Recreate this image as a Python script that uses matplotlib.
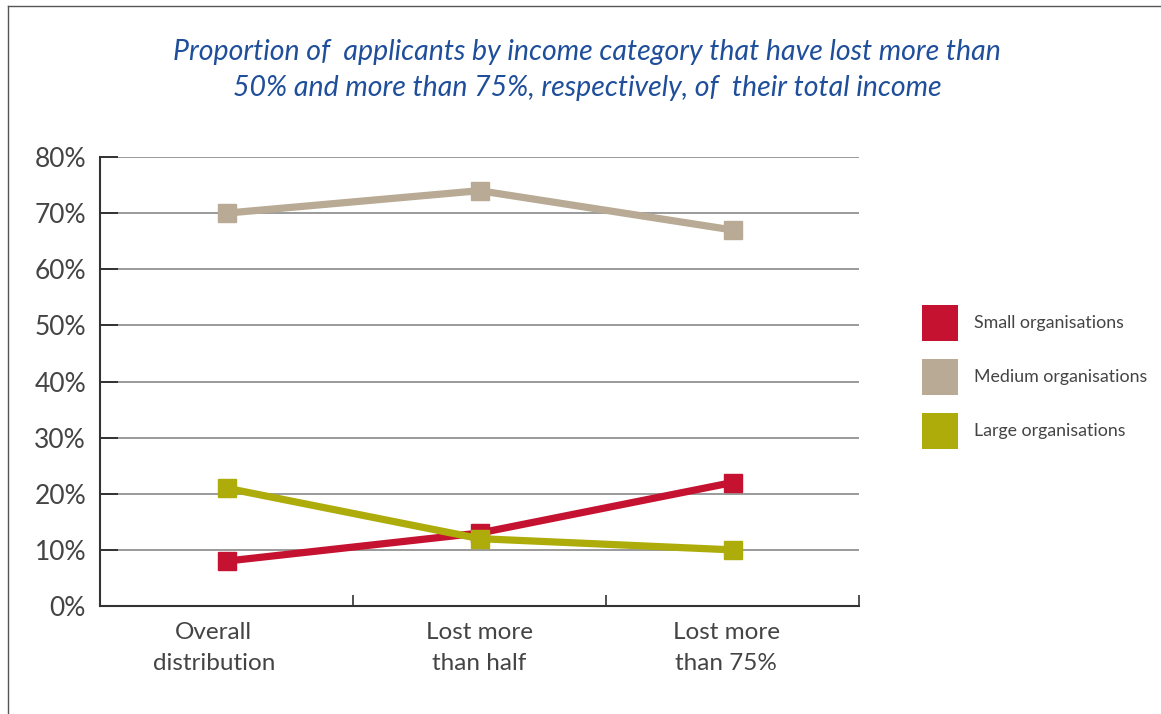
import matplotlib.pyplot as plt
from matplotlib.patches import Rectangle
from matplotlib.lines import Line2D

categories = ["Overall\ndistribution", "Lost more\nthan half", "Lost more\nthan 75%"]
series_names = ["Small organisations", "Medium organisations", "Large organisations"]
small = [8, 13, 22]
medium = [70, 74, 67]
large = [21, 12, 10]
y_ticks = [0, 10, 20, 30, 40, 50, 60, 70, 80]
y_labels = ["0%", "10%", "20%", "30%", "40%", "50%", "60%", "70%", "80%"]

colors = ["#C41230", "#B8AA94", "#ADAC0A"]
title = ("Proportion of  applicants by income category that have lost more than\n"
         "50% and more than 75%, respectively, of  their total income")

plt.rcParams['font.family'] = ['Lato', 'DejaVu Sans']
text_col = "#444444"

fig = plt.figure(figsize=(11.61, 7.14), dpi=100)
ax = fig.add_axes([100 / 1161, 108 / 714, 759 / 1161, 449 / 714])

x = [i + 0.5 for i in range(len(categories))]
for vals, col in zip([medium, small, large], [colors[1], colors[0], colors[2]]):
    ax.plot(x, vals, color=col, lw=5.2, marker='s', markersize=13,
            solid_joinstyle='miter', zorder=3)

ax.set_xlim(0, 3)
ax.set_ylim(0, 80)
ax.set_yticks(y_ticks)
ax.set_yticklabels(y_labels, fontsize=19, color=text_col)
ax.yaxis.grid(True, color="#7f7f7f", lw=1.1)
ax.set_axisbelow(True)
ax.tick_params(axis='y', direction='in', length=13, width=1.4, color="#333333", pad=10)

ax.set_xticks([1, 2, 3])
ax.set_xticklabels([])
ax.tick_params(axis='x', direction='in', length=8, width=1.2, color="#333333")
label_nudge = [-0.05, 0.0, -0.025]
for xi, lab, dx in zip(x, categories, label_nudge):
    ax.text(xi + dx, -2.8, lab, ha='center', va='top', fontsize=17.5,
            color=text_col, linespacing=1.6, transform=ax.transData)

for s in ['top', 'right']:
    ax.spines[s].set_visible(False)
for s in ['left', 'bottom']:
    ax.spines[s].set_color("#333333")
    ax.spines[s].set_linewidth(1.5)

fig.text(587 / 1161, 1 - 70 / 714, title, ha='center', va='center',
         fontsize=20.5, style='italic', color="#1F4E9A", linespacing=1.5)

# legend swatches and labels
for i, (name, col) in enumerate(zip(series_names, colors)):
    yc = 323 + i * 54
    fig.patches.append(Rectangle((922 / 1161, 1 - (yc + 18) / 714), 36 / 1161, 36 / 714,
                                 transform=fig.transFigure, facecolor=col,
                                 edgecolor='none'))
    fig.text(974 / 1161, 1 - yc / 714, name, ha='left', va='center',
             fontsize=12.8, color=text_col)

# frame lines
fig.lines.append(Line2D([8 / 1161, 8 / 1161], [0, 1 - 6 / 714],
                        transform=fig.transFigure, color="#555555", lw=1))
fig.lines.append(Line2D([8 / 1161, 1], [1 - 6 / 714, 1 - 6 / 714],
                        transform=fig.transFigure, color="#555555", lw=1))

fig.savefig("out.png", dpi=100, facecolor='white')
